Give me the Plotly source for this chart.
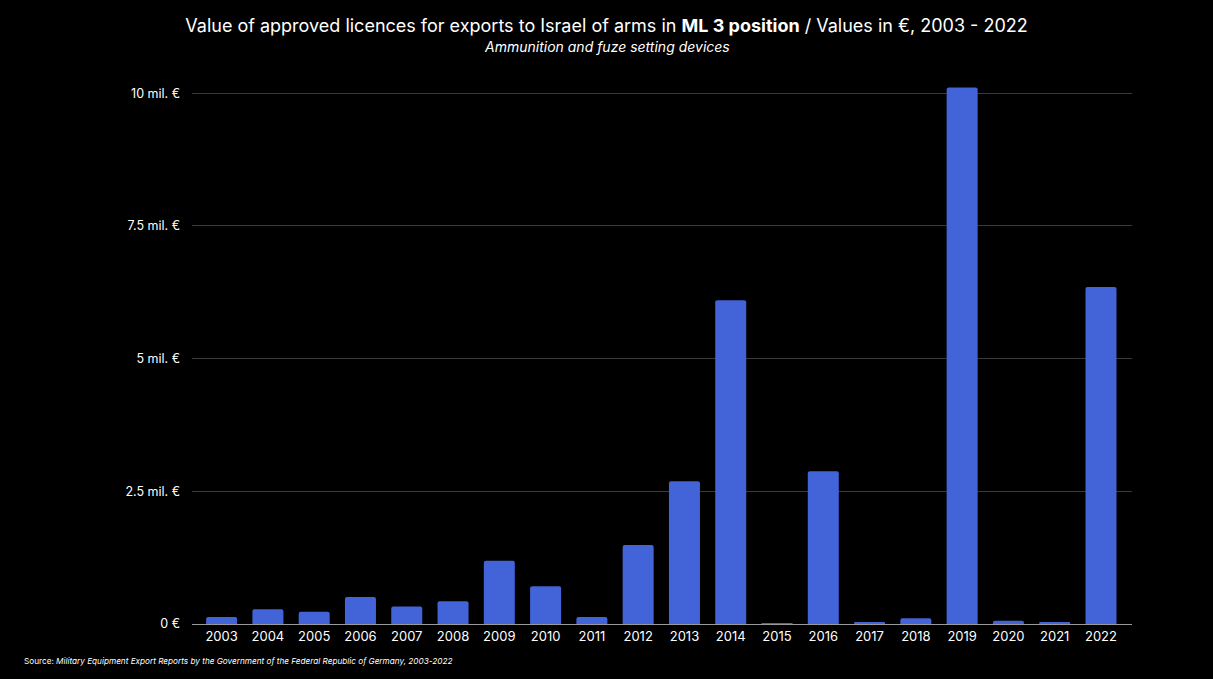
import plotly.graph_objects as go

years = [str(y) for y in range(2003, 2023)]
values_mil = [0.13, 0.28, 0.23, 0.51, 0.33, 0.43, 1.19, 0.71, 0.13, 1.49,
              2.69, 6.10, 0.01, 2.88, 0.03, 0.11, 10.11, 0.06, 0.03, 6.35]
ytick_vals = [0, 2.5, 5, 7.5, 10]
ytick_text = ["0 €", "2.5 mil. €", "5 mil. €", "7.5 mil. €", "10 mil. €"]

W, H = 1213, 679
ML, MR, MT, MB = 192, 81, 72, 55

fig = go.Figure()
fig.add_trace(go.Bar(
    x=years, y=values_mil,
    marker=dict(color="#4363D8", cornerradius=2, line=dict(width=0)),
    hovertemplate="%{x}: %{y:.2f} mil. €<extra></extra>",
))

fig.update_layout(
    width=W, height=H,
    paper_bgcolor="black", plot_bgcolor="black",
    font=dict(family="Inter, Roboto, sans-serif", color="white", size=12),
    margin=dict(l=ML, r=MR, t=MT, b=MB),
    bargap=0.33,
    showlegend=False,
    title=dict(
        text="Value of approved licences for exports to Israel of arms in <b>ML 3 position</b> / Values in €, 2003 - 2022",
        x=0.5, xanchor="center", y=1 - 26/H, yanchor="middle",
        font=dict(size=18, color="white"),
    ),
    annotations=[
        dict(text="<i>Ammunition and fuze setting devices</i>", xref="paper", yref="paper",
             x=(606.5 - ML) / (W - ML - MR), y=1, xanchor="center", yanchor="middle", showarrow=False,
             font=dict(size=14, color="white"),
             yshift=(MT - 46)),
        dict(text="Source: <i>Military Equipment Export Reports by the Government of the Federal Republic of Germany, 2003-2022</i>",
             xref="paper", yref="paper", x=0, y=0, xanchor="left", yanchor="middle",
             xshift=-(ML - 22), yshift=-(661 - 624), showarrow=False,
             font=dict(size=8.2, color="white")),
    ],
)

fig.update_xaxes(
    range=[-0.64, 19.67],
    showgrid=False, showline=True, linecolor="#9a9a9a", linewidth=1,
    ticks="", tickfont=dict(size=13, color="white"),
)
fig.update_yaxes(
    range=[0, 10.4], tickvals=ytick_vals, ticktext=ytick_text,
    showgrid=True, gridcolor="#3a3a3a", gridwidth=1,
    zeroline=False, showline=False, ticks="", ticklabelstandoff=11,
    tickfont=dict(size=12.5, color="white"),
)

fig.write_html(
    "out.html",
    config={"displayModeBar": False},
    post_script="document.body.style.margin='0';document.body.style.background='black';",
)
